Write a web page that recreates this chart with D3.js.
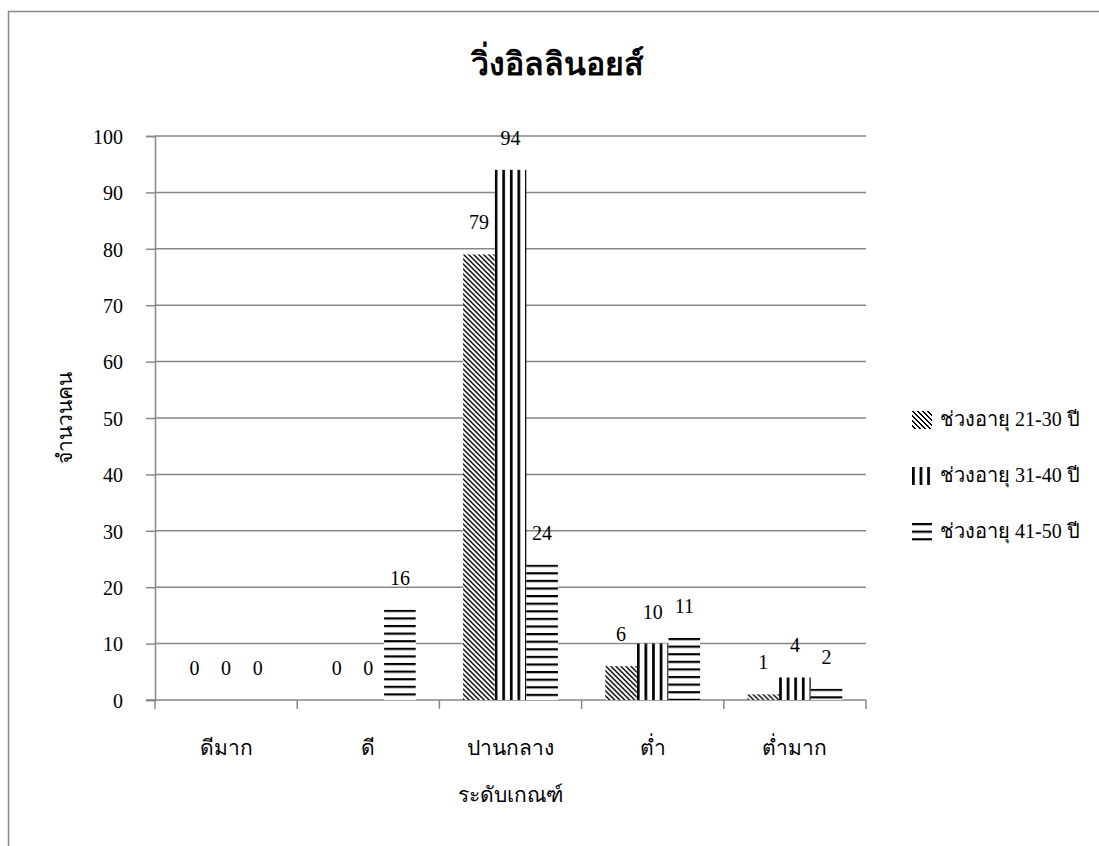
<!DOCTYPE html>
<html>
<head>
<meta charset="utf-8">
<script src="https://cdn.jsdelivr.net/npm/d3@7"></script>
<style>
  html, body { margin: 0; padding: 0; background: #fff; }
  svg text { font-family: "Liberation Serif", "Times New Roman", serif; fill: #000; }
</style>
</head>
<body>
<svg id="chart" width="1099" height="846"></svg>
<script>
// Levels (x categories), age groups (series) and counts per level
const categories = ["ดีมาก", "ดี", "ปานกลาง", "ต่ำ", "ต่ำมาก"];
const seriesNames = ["ช่วงอายุ 21-30 ปี", "ช่วงอายุ 31-40 ปี", "ช่วงอายุ 41-50 ปี"];
const age21to30 = [0, 0, 79, 6, 1];
const age31to40 = [0, 0, 94, 10, 4];
const age41to50 = [0, 16, 24, 11, 2];
const yTicks = [0, 10, 20, 30, 40, 50, 60, 70, 80, 90, 100];
const chartTitle = "วิ่งอิลลินอยส์";
const xTitle = "ระดับเกณฑ์";
const yTitle = "จำนวนคน";

const seriesValues = [age21to30, age31to40, age41to50];
const patternKinds = ["diag", "vert", "horiz"];

const svg = d3.select("#chart");
const defs = svg.append("defs");
const gridColor = "#878787";

// Outer chart frame
svg.append("rect")
  .attr("x", 8.5).attr("y", 11.5)
  .attr("width", 1200).attr("height", 1000)
  .attr("fill", "none").attr("stroke", gridColor).attr("stroke-width", 1.5);

const plot = { left: 155, right: 866, top: 136, bottom: 700 };

const x0 = d3.scaleBand().domain(categories).range([plot.left, plot.right]).paddingInner(0).paddingOuter(0);
// 150% gap width: three bars fill 3/4.5 of each band
const x1 = d3.scaleBand().domain(d3.range(seriesNames.length))
  .range([0, x0.bandwidth()]).paddingInner(0).paddingOuter(0.75);
const y = d3.scaleLinear().domain([0, 100]).range([plot.bottom, plot.top]);

// Gridlines
svg.append("g")
  .selectAll("line").data(yTicks.filter(t => t > 0)).join("line")
  .attr("x1", plot.left).attr("x2", plot.right)
  .attr("y1", d => y(d)).attr("y2", d => y(d))
  .attr("stroke", gridColor).attr("stroke-width", 1.5);

// Y axis
const yAxis = svg.append("g").attr("transform", `translate(${plot.left},0)`)
  .call(d3.axisLeft(y).tickValues(yTicks).tickSize(9).tickPadding(23));
yAxis.select(".domain").attr("stroke", gridColor).attr("stroke-width", 1.5);
yAxis.selectAll(".tick line").attr("stroke", gridColor).attr("stroke-width", 1.5);
yAxis.selectAll(".tick text").attr("font-size", 20).attr("font-family", null).attr("dy", "0.36em");

// X axis
const xAxis = svg.append("g").attr("transform", `translate(0,${plot.bottom})`)
  .call(d3.axisBottom(x0).tickSize(0).tickPadding(40));
xAxis.select(".domain").attr("stroke", gridColor).attr("stroke-width", 1.5)
  .attr("d", `M${plot.left - 9},0H${plot.right}`);
xAxis.selectAll(".tick text").attr("font-size", 21).attr("font-family", null);
xAxis.selectAll(".bandtick").data(d3.range(categories.length + 1)).join("line")
  .attr("x1", i => plot.left + i * x0.step()).attr("x2", i => plot.left + i * x0.step())
  .attr("y1", 0).attr("y2", 9)
  .attr("stroke", gridColor).attr("stroke-width", 1.5);

// Fill patterns, one per bar so stripes start at each bar's own edge
function makePattern(id, kind, bx, by) {
  if (kind === "diag") {
    const p = defs.append("pattern").attr("id", id).attr("patternUnits", "userSpaceOnUse")
      .attr("x", bx).attr("y", by).attr("width", 5).attr("height", 5);
    p.append("rect").attr("width", 5).attr("height", 5).attr("fill", "#fff");
    for (let i = 0; i < 5; i++) {
      p.append("rect").attr("x", i).attr("y", i).attr("width", 1).attr("height", 1).attr("fill", "#000");
      p.append("rect").attr("x", (i + 1) % 5).attr("y", i).attr("width", 1).attr("height", 1).attr("fill", "#000");
    }
  } else if (kind === "vert") {
    const p = defs.append("pattern").attr("id", id).attr("patternUnits", "userSpaceOnUse")
      .attr("x", bx).attr("y", 0).attr("width", 7.6).attr("height", 10);
    p.append("rect").attr("width", 7.6).attr("height", 10).attr("fill", "#fff");
    p.append("rect").attr("x", 0).attr("width", 2.7).attr("height", 10).attr("fill", "#000");
  } else {
    const p = defs.append("pattern").attr("id", id).attr("patternUnits", "userSpaceOnUse")
      .attr("x", 0).attr("y", by).attr("width", 10).attr("height", 7.6);
    p.append("rect").attr("width", 10).attr("height", 7.6).attr("fill", "#fff");
    p.append("rect").attr("y", 0).attr("width", 10).attr("height", 2.2).attr("fill", "#000");
  }
}

const barData = [];
categories.forEach((c, ci) => {
  seriesValues.forEach((vals, si) => {
    barData.push({ cat: c, ci, si, value: vals[ci] });
  });
});

barData.forEach(d => {
  d.x = x0(d.cat) + x1(d.si);
  d.w = x1.bandwidth();
  d.y = y(d.value);
  d.pid = `pat-${d.ci}-${d.si}`;
  makePattern(d.pid, patternKinds[d.si], d.x, d.y);
});

svg.append("g").selectAll("rect").data(barData.filter(d => d.value > 0)).join("rect")
  .attr("x", d => d.x).attr("width", d => d.w)
  .attr("y", d => d.y).attr("height", d => y(0) - d.y)
  .attr("fill", d => `url(#${d.pid})`);

// Value labels
svg.append("g").selectAll("text").data(barData).join("text")
  .attr("x", d => d.x + d.w / 2).attr("y", d => d.y - 25)
  .attr("text-anchor", "middle").attr("font-size", 20)
  .text(d => d.value);

// Titles
svg.append("text").attr("x", 557).attr("y", 75).attr("text-anchor", "middle")
  .attr("font-size", 32).attr("font-weight", "bold").text(chartTitle);
svg.append("text").attr("x", (plot.left + plot.right) / 2).attr("y", 802)
  .attr("text-anchor", "middle").attr("font-size", 21).text(xTitle);
svg.append("text").attr("transform", `translate(72,${(plot.top + plot.bottom) / 2}) rotate(-90)`)
  .attr("text-anchor", "middle").attr("font-size", 21).text(yTitle);

// Legend
const legend = svg.append("g");
const legendRowY = [419, 475, 531];
seriesNames.forEach((name, i) => {
  const cy = legendRowY[i];
  const id = `leg-${i}`;
  makePattern(id, patternKinds[i], 912, cy - 8);
  legend.append("rect").attr("x", 912).attr("y", cy - 8).attr("width", 20).attr("height", 18)
    .attr("fill", `url(#${id})`);
  legend.append("text").attr("x", 940).attr("y", cy + 7).attr("font-size", 20).text(name);
});
</script>
</body>
</html>
